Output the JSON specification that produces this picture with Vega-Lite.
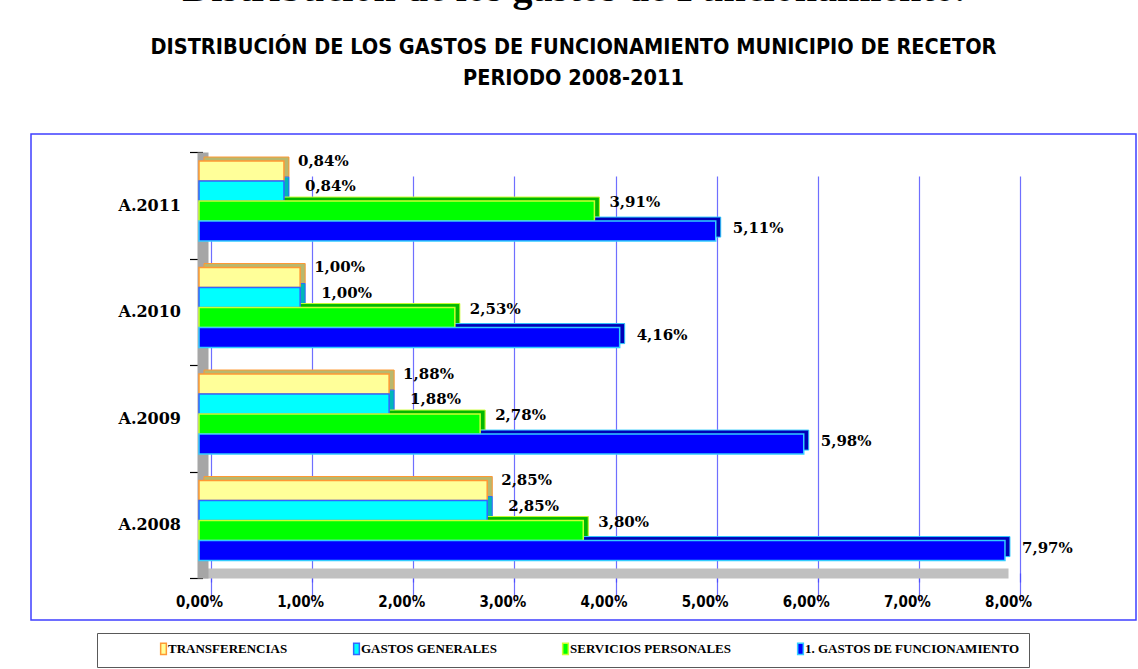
{
  "$schema": "https://vega.github.io/schema/vega-lite/v6.json",
  "width": 1105,
  "height": 486,
  "autosize": {"type": "none"},
  "padding": {"left": 31, "top": 134, "right": 2, "bottom": 49},
  "background": "white",
  "config": {
    "locale": {"number": {"decimal": ",", "thousands": ".", "grouping": [3], "currency": ["$", ""]}},
    "view": {"stroke": "#3F3FFF", "strokeWidth": 1.5, "fill": "white"}
  },
  "title": {
    "text": "Distribución de los gastos de Funcionamiento.",
    "subtitle": ["DISTRIBUCIÓN DE LOS GASTOS DE FUNCIONAMIENTO MUNICIPIO DE RECETOR", "PERIODO 2008-2011"],
    "anchor": "middle", "dx": -10,
    "font": "Liberation Serif", "fontSize": 40, "fontWeight": "bold", "color": "black",
    "subtitleFont": "DejaVu Sans Condensed", "subtitleFontSize": 21.5, "subtitleFontWeight": "bold", "subtitleColor": "black",
    "subtitleLineHeight": 31, "subtitlePadding": 28,
    "offset": 37
  },
  "data": {
    "values": [
      {"year": "A.2011", "serie": "TRANSFERENCIAS", "value": 0.0084},
      {"year": "A.2011", "serie": "GASTOS GENERALES", "value": 0.0084},
      {"year": "A.2011", "serie": "SERVICIOS PERSONALES", "value": 0.0391},
      {"year": "A.2011", "serie": "1. GASTOS DE FUNCIONAMIENTO", "value": 0.0511},
      {"year": "A.2010", "serie": "TRANSFERENCIAS", "value": 0.0100},
      {"year": "A.2010", "serie": "GASTOS GENERALES", "value": 0.0100},
      {"year": "A.2010", "serie": "SERVICIOS PERSONALES", "value": 0.0253},
      {"year": "A.2010", "serie": "1. GASTOS DE FUNCIONAMIENTO", "value": 0.0416},
      {"year": "A.2009", "serie": "TRANSFERENCIAS", "value": 0.0188},
      {"year": "A.2009", "serie": "GASTOS GENERALES", "value": 0.0188},
      {"year": "A.2009", "serie": "SERVICIOS PERSONALES", "value": 0.0278},
      {"year": "A.2009", "serie": "1. GASTOS DE FUNCIONAMIENTO", "value": 0.0598},
      {"year": "A.2008", "serie": "TRANSFERENCIAS", "value": 0.0285},
      {"year": "A.2008", "serie": "GASTOS GENERALES", "value": 0.0285},
      {"year": "A.2008", "serie": "SERVICIOS PERSONALES", "value": 0.0380},
      {"year": "A.2008", "serie": "1. GASTOS DE FUNCIONAMIENTO", "value": 0.0797}
    ]
  },
  "resolve": {"scale": {"yOffset": "independent"}},
  "layer": [
    {
      "layer": [
        {
          "mark": {"type": "bar", "xOffset": 5, "color": "black", "stroke": null},
          "encoding": {
            "y": {"field": "year", "type": "nominal", "title": null,
                  "scale": {"domain": ["A.2011", "A.2010", "A.2009", "A.2008"], "range": [18, 444], "paddingInner": 0, "paddingOuter": 0},
                  "axis": {"offset": -171.5, "grid": false,
                           "tickBand": "extent", "ticks": true, "tickColor": "black", "tickSize": 13, "tickWidth": 1.2,
                           "domain": true, "domainColor": "#A6A6A6", "domainWidth": 11,
                           "labelFont": "DejaVu Serif", "labelFontSize": 16, "labelFontWeight": "bold", "labelColor": "black",
                           "labelPadding": 9}},
            "yOffset": {"field": "serie", "type": "nominal",
                  "scale": {"domain": ["TRANSFERENCIAS", "GASTOS GENERALES", "SERVICIOS PERSONALES", "1. GASTOS DE FUNCIONAMIENTO"], "paddingInner": 0, "paddingOuter": 0.66, "align": 0.19}},
            "x": {"field": "value", "type": "quantitative", "title": null,
                  "scale": {"domain": [0, 0.08], "range": [168, 977], "nice": false, "zero": true},
                  "axis": {"offset": -47, "values": [0, 0.01, 0.02, 0.03, 0.04, 0.05, 0.06, 0.07, 0.08], "format": ".2%",
                           "grid": true, "gridColor": "#6F6FFF", "gridWidth": 1.2,
                           "tickOffset": 12, "labelOffset": -12,
                           "ticks": true, "tickColor": "#5050FF", "tickSize": 9, "tickWidth": 1.2,
                           "domain": true, "domainColor": "#C0C0C0", "domainWidth": 10,
                           "labelFont": "DejaVu Sans Condensed", "labelFontSize": 15, "labelFontWeight": "bold", "labelColor": "black",
                           "labelPadding": 12, "labelFlush": false, "labelOverlap": false}}
          }
        },
        {
          "mark": {"type": "bar", "xOffset": 5, "fillOpacity": 0.72, "strokeWidth": 1},
          "encoding": {
            "y": {"field": "year", "type": "nominal", "title": null},
            "yOffset": {"field": "serie", "type": "nominal"},
            "x": {"field": "value", "type": "quantitative", "title": null},
            "fill": {"field": "serie", "type": "nominal", "title": " "},
            "stroke": {"field": "serie", "type": "nominal", "title": " "}
          }
        }
      ]
    },
    {
      "layer": [
        {
          "mark": {"type": "bar", "strokeWidth": 1.5},
          "encoding": {
            "y": {"field": "year", "type": "nominal", "title": null},
            "yOffset": {"field": "serie", "type": "nominal",
                  "scale": {"domain": ["TRANSFERENCIAS", "GASTOS GENERALES", "SERVICIOS PERSONALES", "1. GASTOS DE FUNCIONAMIENTO"], "paddingInner": 0, "paddingOuter": 0.66, "align": 0.34}},
            "x": {"field": "value", "type": "quantitative", "title": null},
            "fill": {"field": "serie", "type": "nominal", "title": " ",
                  "scale": {"domain": ["TRANSFERENCIAS", "GASTOS GENERALES", "SERVICIOS PERSONALES", "1. GASTOS DE FUNCIONAMIENTO"], "range": ["#FFFF99", "#00FFFF", "#00FF00", "#0000FF"]},
                  "legend": {"orient": "none", "legendX": 66, "legendY": 499, "direction": "horizontal", "columns": 4, "columnPadding": 62,
                             "titleOrient": "left", "titlePadding": 51, "titleFontSize": 4,
                             "fillColor": "white", "strokeColor": "#595959", "padding": 9,
                             "labelFont": "Liberation Serif", "labelFontSize": 13, "labelFontWeight": "bold", "labelColor": "black", "labelOffset": -2, "labelLimit": 400,
                             "symbolType": "M-0.5,-1H0.5V1H-0.5Z", "symbolSize": 130, "symbolStrokeWidth": 1.5}},
            "stroke": {"field": "serie", "type": "nominal", "title": " ",
                  "scale": {"domain": ["TRANSFERENCIAS", "GASTOS GENERALES", "SERVICIOS PERSONALES", "1. GASTOS DE FUNCIONAMIENTO"], "range": ["#FF9933", "#3366FF", "#CCFF33", "#33CCFF"]},
                  "legend": {"orient": "none", "legendX": 66, "legendY": 499, "direction": "horizontal", "columns": 4, "columnPadding": 62,
                             "titleOrient": "left", "titlePadding": 51, "titleFontSize": 4,
                             "fillColor": "white", "strokeColor": "#595959", "padding": 9,
                             "labelFont": "Liberation Serif", "labelFontSize": 13, "labelFontWeight": "bold", "labelColor": "black", "labelOffset": -2, "labelLimit": 400,
                             "symbolType": "M-0.5,-1H0.5V1H-0.5Z", "symbolSize": 130, "symbolStrokeWidth": 1.5}}
          }
        },
        {
          "transform": [{"filter": "datum.serie === 'TRANSFERENCIAS'"}],
          "mark": {"type": "text", "align": "left", "baseline": "middle", "dx": 14, "dy": -10, "font": "DejaVu Serif", "fontSize": 15, "fontWeight": "bold", "color": "black"},
          "encoding": {
            "y": {"field": "year", "type": "nominal", "title": null},
            "yOffset": {"field": "serie", "type": "nominal"},
            "x": {"field": "value", "type": "quantitative", "title": null},
            "text": {"field": "value", "type": "quantitative", "format": ".2%"}
          }
        },
        {
          "transform": [{"filter": "datum.serie === 'GASTOS GENERALES'"}],
          "mark": {"type": "text", "align": "left", "baseline": "middle", "dx": 21, "dy": -5, "font": "DejaVu Serif", "fontSize": 15, "fontWeight": "bold", "color": "black"},
          "encoding": {
            "y": {"field": "year", "type": "nominal", "title": null},
            "yOffset": {"field": "serie", "type": "nominal"},
            "x": {"field": "value", "type": "quantitative", "title": null},
            "text": {"field": "value", "type": "quantitative", "format": ".2%"}
          }
        },
        {
          "transform": [{"filter": "datum.serie === 'SERVICIOS PERSONALES'"}],
          "mark": {"type": "text", "align": "left", "baseline": "middle", "dx": 15, "dy": -9, "font": "DejaVu Serif", "fontSize": 15, "fontWeight": "bold", "color": "black"},
          "encoding": {
            "y": {"field": "year", "type": "nominal", "title": null},
            "yOffset": {"field": "serie", "type": "nominal"},
            "x": {"field": "value", "type": "quantitative", "title": null},
            "text": {"field": "value", "type": "quantitative", "format": ".2%"}
          }
        },
        {
          "transform": [{"filter": "datum.serie === '1. GASTOS DE FUNCIONAMIENTO'"}],
          "mark": {"type": "text", "align": "left", "baseline": "middle", "dx": 17, "dy": -3, "font": "DejaVu Serif", "fontSize": 15, "fontWeight": "bold", "color": "black"},
          "encoding": {
            "y": {"field": "year", "type": "nominal", "title": null},
            "yOffset": {"field": "serie", "type": "nominal"},
            "x": {"field": "value", "type": "quantitative", "title": null},
            "text": {"field": "value", "type": "quantitative", "format": ".2%"}
          }
        }
      ]
    }
  ]
}
